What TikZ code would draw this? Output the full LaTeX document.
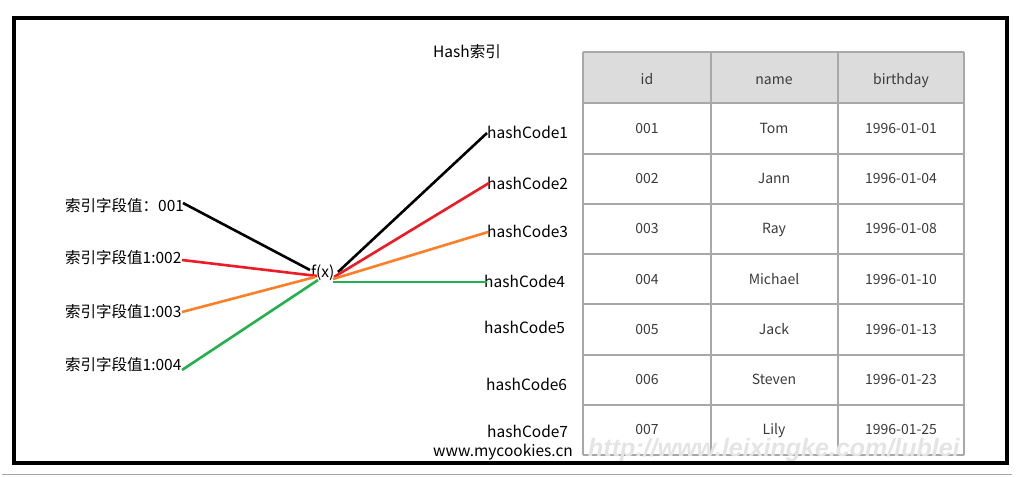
\documentclass[tikz,border=0pt]{standalone}
\usepackage{fontspec}
\setmainfont{Noto Sans CJK SC}
\newfontfamily\wmfont{Liberation Sans}
\definecolor{pRed}{HTML}{ED1C24}
\definecolor{pOrange}{HTML}{FF7F27}
\definecolor{pGreen}{HTML}{22B14C}
\definecolor{gridc}{HTML}{A8A8A8}
\definecolor{headc}{HTML}{DCDCDC}
\definecolor{cellt}{HTML}{3A3A3A}
\definecolor{wmc}{HTML}{E4E4E4}
\tikzset{
  lbl/.style={anchor=base west, inner sep=0pt, font=\fontsize{15.5}{18}\selectfont},
  hc/.style={anchor=base west, inner sep=0pt, font=\fontsize{15.5}{18}\selectfont},
  cell/.style={anchor=base, inner sep=0pt, text=cellt, font=\fontsize{14}{16}\selectfont},
  conn/.style={line width=2.6pt},
}
\begin{document}
\begin{tikzpicture}[x=1pt,y=-1pt]
\useasboundingbox (0,0) rectangle (1016,476);
% frame
\draw[line width=4pt] (13.7,17.8) rectangle (1007,462.5);
\draw[gray!70, line width=0.7pt] (2,474.5) -- (1012,474.5);

% title
\node[lbl] (title) at (433,58) {Hash索引};

% table
\fill[headc] (583,52) rectangle (964,103);
\foreach \y in {52,103,154,204,254,304,355,405,455} \draw[gridc, line width=1.4pt] (583,\y) -- (964,\y);
\foreach \x in {583,711,838,964} \draw[gridc, line width=1.4pt] (\x,52) -- (\x,455);
\node[cell] (h1) at (647,85) {id};
\node[cell] (h2) at (774,85) {name};
\node[cell] (h3) at (901,85) {birthday};
\foreach \i/\yy/\id/\nm/\bd in {1/133.5/001/Tom/1996-01-01, 2/183.5/002/Jann/1996-01-04, 3/233.5/003/Ray/1996-01-08, 4/284.5/004/Michael/1996-01-10, 5/334.5/005/Jack/1996-01-13, 6/384.5/006/Steven/1996-01-23, 7/434.5/007/Lily/1996-01-25}{
  \node[cell] (c\i a) at (647,\yy) {\id};
  \node[cell] (c\i b) at (774,\yy) {\nm};
  \node[cell] (c\i c) at (901,\yy) {\bd};
}

% left labels
\node[lbl] (l1) at (65,211) {索引字段值：001};
\node[lbl] (l2) at (65,263.5) {索引字段值1:002};
\node[lbl] (l3) at (65,317) {索引字段值1:003};
\node[lbl] (l4) at (65,370) {索引字段值1:004};

% f(x)
\node[lbl] (fx) at (311,277.5) {f(x)};

% hash codes
\node[hc] (k1) at (487,138) {hashCode1};
\node[hc] (k2) at (487,189) {hashCode2};
\node[hc] (k3) at (487,237) {hashCode3};
\node[hc] (k4) at (484,287) {hashCode4};
\node[hc] (k5) at (484,333) {hashCode5};
\node[hc] (k6) at (486,390) {hashCode6};
\node[hc] (k7) at (487,437) {hashCode7};
\node[hc] (site) at (433,456) {www.mycookies.cn};

% connector endpoints
\coordinate (a1) at (183,203);
\coordinate (a2) at (182,260);
\coordinate (a3) at (182,312);
\coordinate (a4) at (182,370);
\coordinate (f1) at (310,270);
\coordinate (f2) at (317,276);
\coordinate (f3) at (315,277);
\coordinate (f4) at (318,280);
\coordinate (g1) at (338,272);
\coordinate (g2) at (334,277);
\coordinate (g3) at (333,279);
\coordinate (g4) at (333,282);
\coordinate (b1) at (487,133);
\coordinate (b2) at (489,183);
\coordinate (b3) at (488,232);
\coordinate (b4) at (487,282);

\draw[conn, black] (a1) -- (f1);
\draw[conn, pRed] (a2) -- (f2);
\draw[conn, pOrange] (a3) -- (f3);
\draw[conn, pGreen] (a4) -- (f4);
\draw[conn, black] (g1) -- (b1);
\draw[conn, pRed] (g2) -- (b2);
\draw[conn, pOrange] (g3) -- (b3);
\draw[conn, pGreen] (g4) -- (b4);

% watermark
\begin{scope}
\clip (586,420) rectangle (1004.5,460);
\node[anchor=base west, inner sep=0pt, text=wmc, font=\wmfont\bfseries\itshape\fontsize{25}{28}\selectfont] (wm) at (588,456) {http://www.leixingke.com/lublei};
\end{scope}
\end{tikzpicture}
\end{document}
